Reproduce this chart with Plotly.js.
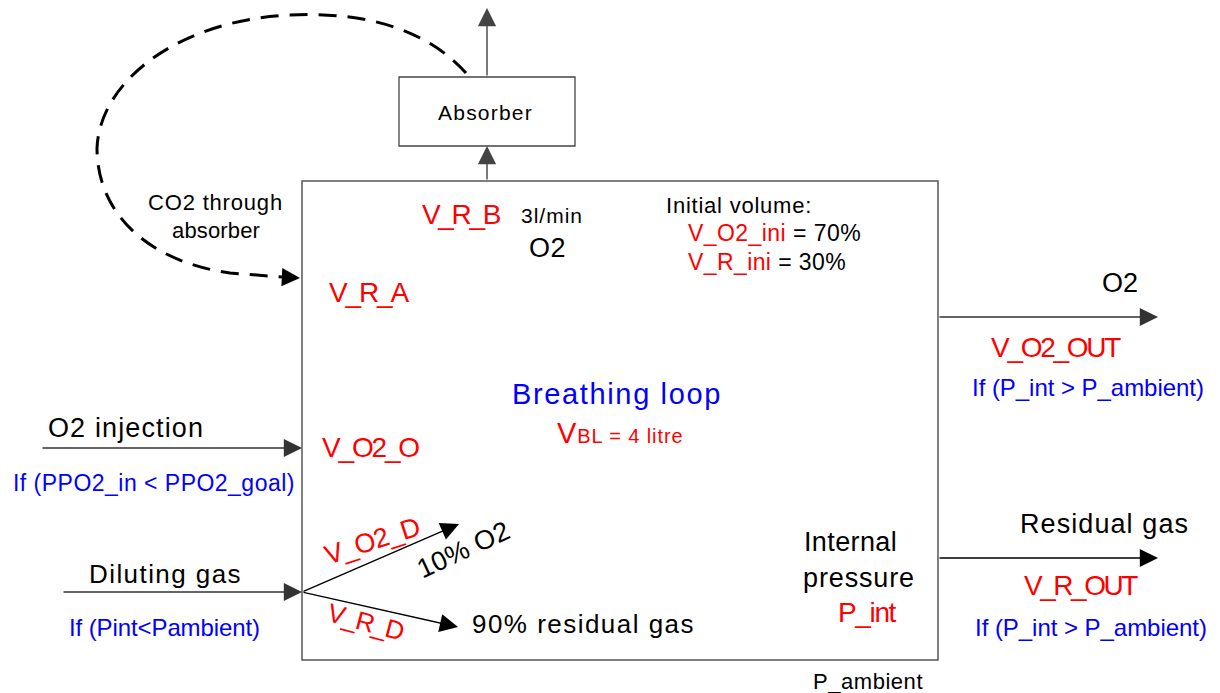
<!DOCTYPE html>
<html>
<head>
<meta charset="utf-8">
<script src="https://cdn.plot.ly/plotly-3.0.1.min.js"></script>
<style>
  html, body { margin: 0; padding: 0; background: #fff; }
  #chart { width: 1220px; height: 693px; }
</style>
</head>
<body>
<div id="chart"></div>
<script>
// diagram drawn on a 1220 x 693 canvas (y grows downward)
const RED = "#ff0000", BLUE = "#0000ff", BLACK = "#000000";
const FONT = "Liberation Sans";

// text labels
const labelText = [
    "Absorber", "CO2 through", "absorber",
    "V_R_B", "3l/min", "O2", "V_R_A",
    "Initial volume:", "V_O2_ini <span style='color:#000'>= 70%</span>", "V_R_ini <span style='color:#000'>= 30%</span>",
    "Breathing loop", "V<span style='font-size:20px'>BL = 4 litre</span>",
    "O2 injection", "If (PPO2_in < PPO2_goal)", "V_O2_O",
    "Diluting gas", "If (Pint<Pambient)",
    "V_O2_D", "10% O2", "V_R_D", "90% residual gas",
    "Internal", "pressure", "P_int", "P_ambient",
    "O2", "V_O2_OUT", "If (P_int > P_ambient)",
    "Residual gas", "V_R_OUT", "If (P_int > P_ambient)"
];
const labelX = [
    485, 215, 216,
    461, 552, 547, 369,
    739, 686, 686,
    617, 620,
    126, 154, 370,
    165, 164,
    372, 463, 366, 583,
    850, 859, 867, 868,
    1120, 1056, 1088,
    1104, 1081, 1091
];
const labelY = [
    112, 202, 230,
    214, 215, 248, 292,
    205, 233, 262,
    394, 433,
    428, 483, 447,
    574, 627,
    541, 550, 622, 624,
    542, 578, 612, 681,
    283, 347, 387,
    524, 585, 627
];
// width of each label in the reference, px (0 = keep natural spacing)
const labelWidth = [
    95, 135, 88,
    77, 62, 37, 78,
    146, 173, 158,
    210, 0,
    156, 282, 96,
    153, 191,
    98, 99, 77, 223,
    93, 112, 57, 110,
    36, 128, 232,
    169, 112, 232
];
const labelSize = [
    21, 22, 22,
    28, 21, 27, 28,
    22, 23, 23,
    29, 29,
    27, 23, 28,
    26, 24,
    27, 27, 26, 26,
    27, 27, 28, 22,
    27, 28, 24,
    27, 28, 24
];
const labelColor = [
    BLACK, BLACK, BLACK,
    RED, BLACK, BLACK, RED,
    BLACK, RED, RED,
    BLUE, RED,
    BLACK, BLUE, RED,
    BLACK, BLUE,
    RED, BLACK, RED, BLACK,
    BLACK, BLACK, RED, BLACK,
    BLACK, RED, BLUE,
    BLACK, RED, BLUE
];
const labelAngle = [
    0, 0, 0,
    0, 0, 0, 0,
    0, 0, 0,
    0, 0,
    0, 0, 0,
    0, 0,
    -18, -25, 15, 0,
    0, 0, 0, 0,
    0, 0, 0,
    0, 0, 0
];
const labelAnchor = [
    "center", "center", "center",
    "center", "center", "center", "center",
    "center", "left", "left",
    "center", "center",
    "center", "center", "center",
    "center", "center",
    "center", "center", "center", "center",
    "center", "center", "center", "center",
    "center", "center", "center",
    "center", "center", "center"
];

// flow arrows: tail (x0,y0) -> head (x1,y1)
const arrowX0 = [487, 487, 41, 62, 302, 302, 938, 938, 280];
const arrowY0 = [181, 77, 448, 592, 592, 592, 317, 558, 277];
const arrowX1 = [487, 487, 302, 302, 459, 458, 1158, 1158, 300];
const arrowY1 = [146, 8, 448, 592, 524, 627, 317, 558, 278];
const arrowColor = ["#444", "#444", "#333", "#333", BLACK, BLACK, "#333", BLACK, BLACK];

// boxes: [x0, y0, x1, y1]
const mainBox = [302, 181, 938, 660];
const absorberBox = [399, 77, 575, 146];

// dashed CO2 return path
const co2Path = "M 466 73 C 420 22 350 12 290 15 C 180 20 100 80 97 148 " +
                "C 97 215 150 262 230 273 L 282 277";

// letter spacing so each label spans the same width as in the reference
const ctx = document.createElement("canvas").getContext("2d");
function spacingFor(i) {
    if (!labelWidth[i]) return 0.9;
    const plain = labelText[i].replace(/<[^>]+>/g, "");
    ctx.font = labelSize[i] + "px '" + FONT + "'";
    const w = ctx.measureText(plain).width;
    return (labelWidth[i] - w) / plain.length;
}

const annotations = labelText.map((t, i) => ({
    x: labelX[i], y: labelY[i], xref: "x", yref: "y",
    text: "<span style='letter-spacing:" + spacingFor(i).toFixed(2) + "px'>" + t + "</span>",
    showarrow: false,
    textangle: labelAngle[i],
    xanchor: labelAnchor[i], yanchor: "middle",
    font: {family: FONT + ", Arial, sans-serif", size: labelSize[i], color: labelColor[i]}
}));

arrowX0.forEach((x0, i) => {
    annotations.push({
        x: arrowX1[i], y: arrowY1[i], ax: x0, ay: arrowY0[i],
        xref: "x", yref: "y", axref: "x", ayref: "y",
        text: "", showarrow: true,
        arrowhead: 2, arrowsize: 2.6, arrowwidth: 1.4,
        arrowcolor: arrowColor[i], standoff: 0
    });
});

const shapes = [
    {type: "rect", xref: "x", yref: "y", x0: mainBox[0], y0: mainBox[1], x1: mainBox[2], y1: mainBox[3],
     line: {color: "#555", width: 1.5}},
    {type: "rect", xref: "x", yref: "y", x0: absorberBox[0], y0: absorberBox[1], x1: absorberBox[2], y1: absorberBox[3],
     line: {color: "#444", width: 1.3}},
    {type: "path", xref: "x", yref: "y", path: co2Path,
     line: {color: BLACK, width: 3, dash: "18px,11px"}}
];

const layout = {
    width: 1220,
    height: 693,
    margin: {t: 0, r: 0, b: 0, l: 0},
    paper_bgcolor: "#fff",
    plot_bgcolor: "#fff",
    xaxis: {range: [0, 1220], visible: false, fixedrange: true},
    yaxis: {range: [693, 0], visible: false, fixedrange: true},
    showlegend: false,
    annotations: annotations,
    shapes: shapes
};

Plotly.newPlot("chart", [{x: [], y: [], type: "scatter"}], layout, {displayModeBar: false, staticPlot: true});
</script>
</body>
</html>
